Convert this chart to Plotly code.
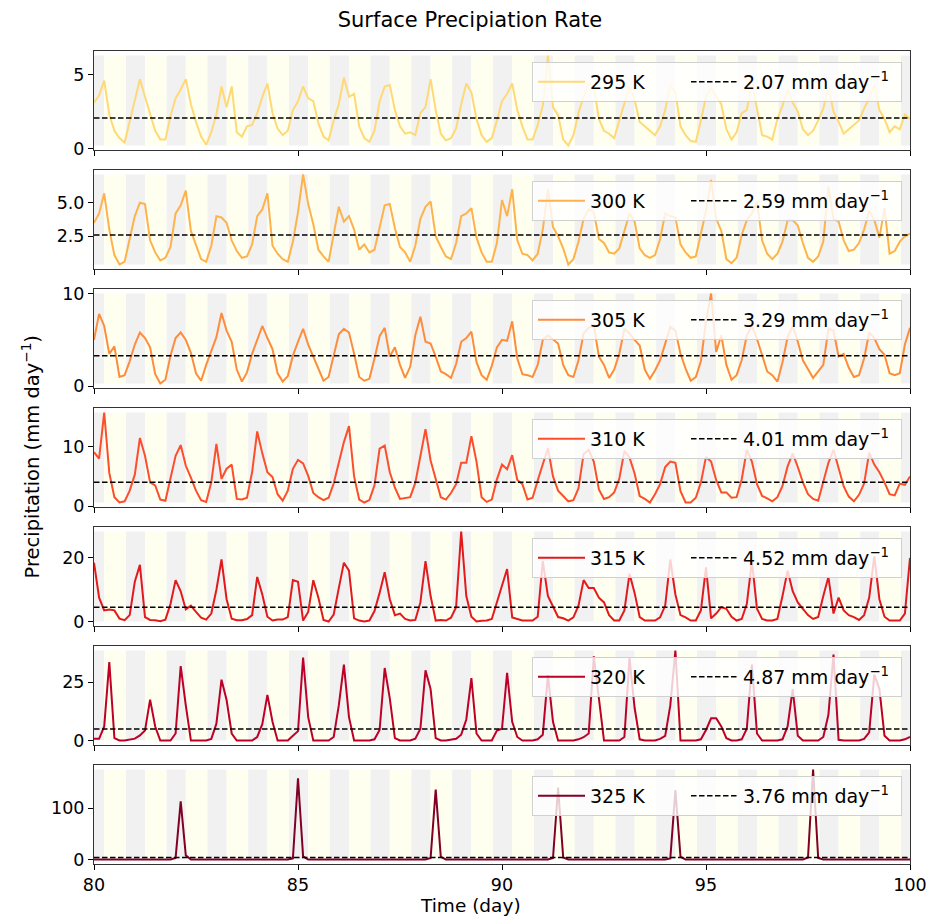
import plotly.graph_objects as go
from plotly.subplots import make_subplots

# ---------------- data (3-hourly samples, day 80 -> 100) ----------------
time = [80 + k / 8 for k in range(161)]

p295 = [3.1, 3.6, 4.6, 2.3, 1.2, 0.7, 0.4, 1.8,
        3.3, 4.7, 3.5, 2.3, 1.2, 0.6, 0.6, 2.2,
        3.4, 4.0, 4.7, 3.0, 1.8, 0.8, 0.25, 1.1,
        2.3, 4.2, 2.8, 4.2, 1.1, 0.8, 1.5, 1.6,
        2.4, 3.5, 4.4, 2.4, 1.35, 0.9, 1.2, 2.6,
        3.2, 4.2, 3.4, 3.2, 1.7, 0.8, 0.55, 1.9,
        3.0, 4.8, 3.5, 3.7, 1.5, 0.7, 0.45, 1.2,
        3.2, 4.2, 4.3, 2.6, 1.5, 1.0, 1.1, 0.9,
        2.4, 2.8, 4.7, 2.6, 1.0, 0.55, 0.7, 1.35,
        3.0, 4.4, 3.8, 2.0, 0.9, 0.45, 0.7, 1.9,
        3.2, 3.7, 4.4, 2.6, 1.5, 0.6, 0.6, 1.6,
        2.9, 6.3, 2.8, 2.25, 0.6, 0.2, 0.9, 2.4,
        3.5, 4.4, 4.2, 2.0, 1.2, 1.0, 0.7, 1.9,
        3.0, 4.2, 3.3, 1.8, 1.5, 1.2, 0.9, 1.5,
        2.6, 4.3, 3.8, 1.5, 0.9, 0.5, 0.45, 1.9,
        3.5, 4.1, 3.5, 3.0, 1.3, 0.6, 1.1, 2.4,
        2.6, 4.4, 2.7, 0.9, 0.8, 0.6, 2.0, 2.9,
        4.0, 3.1, 2.5, 1.3, 0.9, 1.2, 1.9, 2.7,
        4.2, 2.5, 1.8, 1.0, 1.3, 1.6, 1.9, 2.7,
        3.4, 4.3, 2.6, 2.0, 1.1, 1.5, 1.3, 2.3,
        2.0]

p300 = [3.5, 4.2, 5.7, 3.0, 1.1, 0.4, 0.6, 2.2,
        4.0, 5.0, 4.9, 2.2, 1.3, 0.7, 0.9, 1.7,
        4.2, 4.8, 5.9, 2.9, 1.9, 0.8, 0.6, 1.8,
        4.0, 3.9, 3.5, 2.2, 1.4, 0.9, 1.0, 1.9,
        4.0, 4.5, 5.7, 1.8, 1.2, 0.8, 0.6, 2.1,
        4.3, 7.1, 4.9, 3.4, 1.5, 1.0, 0.6, 2.7,
        4.7, 3.6, 4.0, 3.0, 1.5, 1.9, 1.3, 1.5,
        3.1, 4.8, 4.9, 3.1, 1.7, 1.3, 0.6, 1.8,
        3.8, 4.7, 5.1, 2.5, 1.7, 1.0, 0.8, 2.0,
        4.0, 4.2, 4.6, 2.4, 1.3, 0.6, 0.6, 2.0,
        5.2, 4.0, 6.0, 2.2, 1.2, 1.1, 0.7, 1.2,
        3.0, 6.0, 3.2, 2.5, 1.6, 0.4, 0.8, 2.1,
        3.8, 4.5, 4.3, 2.3, 2.0, 1.3, 1.2, 1.6,
        2.9, 4.2, 3.6, 1.6, 1.1, 0.9, 1.1, 2.3,
        4.2, 4.0, 3.9, 1.9, 1.3, 0.9, 1.0, 2.8,
        4.4, 6.7, 3.8, 2.9, 0.8, 0.5, 0.9, 2.6,
        3.7, 4.2, 5.1, 2.2, 1.2, 0.8, 1.2, 2.1,
        3.7, 3.7, 3.3, 2.0, 0.9, 0.6, 1.0, 2.1,
        6.2, 3.8, 3.6, 2.2, 1.4, 1.5, 2.0, 3.0,
        4.4, 3.7, 2.4, 4.6, 1.2, 1.4, 2.1, 2.5,
        2.7]

p305 = [5.0, 7.8, 6.5, 3.5, 4.3, 1.0, 1.2, 2.7,
        4.5, 5.8, 5.2, 4.2, 1.3, 0.3, 0.7, 3.3,
        5.2, 5.8, 5.0, 3.6, 1.4, 0.6, 2.3, 3.7,
        5.3, 7.9, 6.0, 4.8, 1.8, 0.5, 1.5, 3.5,
        5.0, 6.5, 5.2, 4.0, 1.4, 0.5, 1.1, 3.3,
        4.8, 6.2, 4.5, 3.2, 1.9, 0.6, 1.0, 3.4,
        5.6, 6.2, 5.8, 3.5, 1.0, 0.6, 0.8, 3.0,
        5.4, 6.3, 3.2, 4.2, 2.3, 0.9, 2.1, 5.5,
        7.5, 4.8, 4.6, 3.2, 1.6, 1.3, 0.9, 2.4,
        4.8, 5.2, 5.9, 2.6, 1.2, 0.7, 2.2, 4.2,
        5.0, 4.9, 7.0, 3.0, 1.3, 1.2, 1.0, 2.3,
        5.0, 5.5, 5.0, 4.6, 2.3, 1.2, 1.0, 2.8,
        5.7, 6.3, 6.6, 3.2, 2.3, 0.9, 1.8, 3.5,
        6.2, 5.7, 5.0, 4.4, 1.8, 0.8, 1.7, 2.8,
        4.6, 6.4, 6.0, 3.5, 1.9, 0.6, 1.0, 2.7,
        7.0, 10.0, 3.7, 5.5, 2.3, 0.7, 1.2, 2.8,
        5.5, 6.5, 5.1, 3.4, 1.6, 1.2, 0.5, 2.6,
        5.3, 6.5, 4.8, 2.8, 1.8, 0.9, 1.6, 2.3,
        6.2, 6.0, 3.2, 3.5, 2.0, 1.0, 1.2, 3.0,
        5.8, 5.2, 4.0, 3.4, 1.4, 1.2, 1.4, 4.5,
        6.3]

p310 = [9.1, 8.0, 15.8, 5.6, 1.5, 0.6, 0.8, 2.6,
        5.3, 11.5, 8.5, 4.0, 3.5, 1.1, 0.9, 4.8,
        8.5, 10.3, 6.8, 4.8, 2.6, 1.0, 0.7, 4.0,
        10.5, 4.6, 6.3, 7.0, 1.2, 1.1, 1.4, 5.7,
        12.6, 8.9, 5.7, 4.9, 2.0, 0.9, 2.6, 6.3,
        7.8, 7.2, 5.1, 2.2, 1.5, 1.0, 1.4, 3.8,
        7.5, 10.8, 13.5, 5.0, 1.1, 0.6, 1.0, 3.5,
        9.7, 10.2, 5.7, 3.1, 1.2, 1.4, 1.5, 3.9,
        8.3, 13.0, 7.7, 4.8, 1.5, 1.1, 2.2, 3.7,
        7.3, 7.3, 11.8, 7.5, 1.5, 0.7, 1.1, 4.5,
        7.0, 6.2, 8.6, 4.4, 3.7, 1.1, 1.4, 4.3,
        7.0, 9.8, 5.0, 2.6, 1.7, 0.8, 1.0, 3.0,
        8.8, 9.5, 7.5, 2.8, 1.2, 1.5, 2.3, 4.6,
        9.3, 8.2, 5.5, 1.7, 1.2, 0.6, 2.0, 3.7,
        6.6, 7.5, 7.3, 2.5, 0.6, 0.6, 1.4, 4.0,
        8.3, 7.5, 4.4, 2.3, 2.3, 1.4, 1.5, 4.5,
        9.5, 7.5, 3.7, 1.7, 1.3, 0.8, 1.5, 3.4,
        6.7, 8.9, 6.6, 4.0, 2.0, 1.2, 0.9, 3.9,
        7.3, 9.5, 6.6, 3.3, 1.6, 0.8, 1.9, 3.8,
        9.0, 7.0, 5.7, 4.0, 2.0, 1.8, 3.8, 3.6,
        5.0]

p315 = [18.5, 7.5, 3.5, 3.8, 3.5, 0.9, 0.4, 2.0,
        12.5, 17.8, 1.4, 0.5, 0.4, 0.1, 0.6, 5.5,
        13.0, 9.5, 3.8, 5.0, 3.0, 1.2, 0.6, 2.5,
        10.0, 19.5, 7.0, 0.9, 0.4, 0.4, 0.8, 2.0,
        14.0, 8.5, 1.5, 0.3, 0.6, 0.6, 1.4, 13.0,
        12.5, 0.3, 3.0, 13.0, 7.5, 0.5, 0.0, 2.2,
        10.5, 18.5, 16.0, 1.0, 0.3, 0.0, 0.3, 3.3,
        9.0, 15.5, 7.0, 2.0, 2.5, 0.8, 0.3, 0.5,
        6.0, 19.0, 8.0, 0.3, 0.5, 0.3, 1.2, 4.5,
        28.3, 8.0, 1.5, 0.0, 0.2, 0.3, 0.8, 6.0,
        12.0, 16.5, 1.3, 0.9, 0.3, 0.3, 0.3, 1.5,
        19.0, 8.0, 4.6, 1.4, 1.0, 0.3, 1.3, 5.0,
        13.0, 10.5, 10.5, 7.5, 6.0, 2.0, 0.3, 0.3,
        3.5, 15.0, 9.0, 1.4, 0.3, 0.3, 0.3, 1.3,
        5.0, 19.5, 8.5, 2.0, 1.3, 0.3, 0.3, 3.5,
        17.0, 1.0, 2.5, 4.5, 4.0, 1.5, 0.3, 0.8,
        5.5, 19.0, 4.0, 0.8, 0.3, 0.3, 0.8, 8.0,
        16.0, 9.5, 6.0, 4.0, 2.0, 0.8, 1.4, 8.0,
        14.0, 2.5, 7.5, 3.5, 2.0, 1.4, 0.5, 2.0,
        7.5, 20.5, 7.0, 1.5, 0.3, 0.3, 0.3, 2.5,
        20.0]

p320 = [0.7, 0.7, 6.0, 33.5, 1.0, 0.0, 0.0, 0.5,
        0.8, 2.2, 4.3, 17.5, 6.0, 0.0, 0.0, 0.0,
        3.0, 31.8, 15.0, 0.0, 0.0, 0.0, 0.0, 0.7,
        7.2, 26.0, 17.3, 3.0, 0.0, 0.0, 0.0, 0.0,
        1.5, 7.0, 19.5, 8.0, 0.0, 0.0, 0.0, 2.0,
        4.0, 35.5, 10.0, 0.0, 0.0, 0.0, 0.0, 1.5,
        15.0, 32.5, 10.0, 0.0, 0.0, 0.0, 0.0, 0.5,
        4.5, 31.0, 18.0, 1.0, 0.0, 0.0, 0.0, 0.8,
        5.0, 30.0, 22.0, 1.0, 0.0, 0.0, 0.3, 0.7,
        2.5, 9.0, 26.7, 3.0, 0.0, 0.0, 0.0, 4.3,
        5.0, 28.9, 8.0, 1.5, 0.0, 0.0, 0.0, 0.5,
        2.5, 28.0, 8.0, 0.0, 0.0, 0.0, 0.0, 0.5,
        1.4, 3.0, 36.0, 18.0, 0.0, 0.0, 0.0, 0.0,
        1.5, 35.4, 14.0, 0.5, 0.0, 0.0, 0.0, 0.7,
        2.0, 15.0, 38.5, 0.0, 0.0, 0.0, 0.0, 0.5,
        4.5, 9.5, 9.5, 6.0, 1.0, 0.0, 0.0, 0.5,
        5.0, 32.5, 3.0, 0.0, 0.0, 0.0, 0.0, 0.5,
        6.0, 22.0, 2.0, 0.0, 0.0, 0.0, 0.0, 1.5,
        11.0, 36.8, 0.3, 0.0, 0.0, 0.0, 0.0, 0.7,
        3.5, 28.2, 22.0, 2.0, 0.0, 0.0, 0.0, 0.5,
        1.5]

p325 = [0.0, 0.0, 0.0, 0.0, 0.0, 0.0, 0.0, 0.0,
        0.0, 0.0, 0.0, 0.0, 0.0, 0.0, 0.0, 0.0,
        3.0, 113.0, 8.0, 0.0, 0.0, 0.0, 0.0, 0.0,
        0.0, 0.0, 0.0, 0.0, 0.0, 0.0, 0.0, 0.0,
        0.0, 0.0, 0.0, 0.0, 0.0, 0.0, 0.0, 2.0,
        158.0, 6.0, 0.0, 0.0, 0.0, 0.0, 0.0, 0.0,
        0.0, 0.0, 0.0, 0.0, 0.0, 0.0, 0.0, 0.0,
        0.0, 0.0, 0.0, 0.0, 0.0, 0.0, 0.0, 0.0,
        0.0, 0.0, 3.0, 136.0, 5.0, 0.0, 0.0, 0.0,
        0.0, 0.0, 0.0, 0.0, 0.0, 0.0, 0.0, 0.0,
        0.0, 0.0, 0.0, 0.0, 0.0, 0.0, 0.0, 0.0,
        0.0, 0.0, 3.0, 140.0, 4.0, 0.0, 0.0, 0.0,
        0.0, 0.0, 0.0, 0.0, 0.0, 0.0, 0.0, 0.0,
        0.0, 0.0, 0.0, 0.0, 0.0, 0.0, 0.0, 0.0,
        0.0, 2.0, 135.0, 5.0, 0.0, 0.0, 0.0, 0.0,
        0.0, 0.0, 0.0, 0.0, 0.0, 0.0, 0.0, 0.0,
        0.0, 0.0, 0.0, 0.0, 0.0, 0.0, 0.0, 0.0,
        0.0, 0.0, 0.0, 0.0, 4.0, 175.0, 3.0, 0.0,
        0.0, 0.0, 0.0, 0.0, 0.0, 0.0, 0.0, 0.0,
        0.0, 0.0, 0.0, 0.0, 0.0, 0.0, 0.0, 0.0,
        0.0]

series = [p295, p300, p305, p310, p315, p320, p325]
temps = ["295 K", "300 K", "305 K", "310 K", "315 K", "320 K", "325 K"]
means = [2.07, 2.59, 3.29, 4.01, 4.52, 4.87, 3.76]
colors = ["#fed976", "#feb24c", "#fd8d3c", "#fc4e2a", "#e31a1c", "#bd0026", "#800026"]
ytickvals = [[0, 5], [2.5, 5.0], [0, 10], [0, 10], [0, 20], [0, 25], [0, 100]]
yticktext = [["0", "5"], ["2.5", "5.0"], ["0", "10"], ["0", "10"], ["0", "20"], ["0", "25"], ["0", "100"]]
xticks = [80, 85, 90, 95, 100]
days = list(range(80, 101))

# ---------------- figure ----------------
# the page body has an 8 px margin, so the figure is drawn 8 px smaller
OFF = 8
W, H = 941 - OFF, 918 - OFF
ml, mr, mt, mb = 94 - OFF, 31, 51 - OFF, 54
pw, ph = W - ml - mr, H - mt - mb
n = len(series)
gap = 20

fig = make_subplots(rows=n, cols=1, shared_xaxes=True, vertical_spacing=gap / ph)
FONT = "DejaVu Sans"
NB = "\u00a0"

shapes = []
for i, (vals, lab, m, c) in enumerate(zip(series, temps, means, colors)):
    r = i + 1
    lg = "legend" if r == 1 else f"legend{r}"
    fig.add_trace(go.Scatter(x=time, y=vals, mode="lines", name=lab + NB * 6,
                             line=dict(color=c, width=2), legend=lg), row=r, col=1)
    fig.add_trace(go.Scatter(x=[80, 100], y=[m, m], mode="lines",
                             name=f"{m:.2f} mm day<sup>−1</sup>" + NB,
                             line=dict(color="black", width=1.5, dash="5.5px,2.5px"),
                             legend=lg), row=r, col=1)
    lo, hi = min(vals), max(vals)
    pad = 0.05 * (hi - lo)
    xr = "x" if r == 1 else f"x{r}"
    yr = "y" if r == 1 else f"y{r}"
    for d in days:
        g0, g1 = max(80, d - 0.22), min(100, d + 0.25)
        if g1 > g0:
            shapes.append(dict(type="rect", xref=xr, yref=yr, x0=g0, x1=g1, y0=lo, y1=hi,
                               fillcolor="#f1f1f2", line=dict(width=0), layer="below"))
        if d < 100:
            shapes.append(dict(type="rect", xref=xr, yref=yr, x0=d + 0.25, x1=min(100, d + 0.78),
                               y0=lo, y1=hi, fillcolor="#fffff0", line=dict(width=0), layer="below"))
    fig.update_yaxes(row=r, col=1, range=[lo - pad, hi + pad], tickvals=ytickvals[i],
                     ticktext=yticktext[i], ticks="outside", ticklen=5, tickcolor="black",
                     showline=True, mirror=True, linecolor="#333333", linewidth=1,
                     showgrid=False, zeroline=False,
                     tickfont=dict(family=FONT, size=17.5, color="black"))
    fig.update_xaxes(row=r, col=1, range=[80, 100], tickvals=xticks, ticks="outside",
                     ticklen=5, tickcolor="black", showline=True, mirror=True,
                     linecolor="#333333", linewidth=1, showgrid=False, zeroline=False,
                     showticklabels=(r == n),
                     tickfont=dict(family=FONT, size=17.5, color="black"))

fig.update_layout(shapes=shapes)

# per-panel legends
legends = {}
for i in range(n):
    r = i + 1
    ya = fig.layout["yaxis" if r == 1 else f"yaxis{r}"]
    top = ya.domain[1]
    key = "legend" if r == 1 else f"legend{r}"
    legends[key] = dict(x=1 - 8 / pw, xanchor="right", y=top - 11 / ph, yanchor="top",
                        orientation="h", bgcolor="rgba(255,255,255,0.8)",
                        bordercolor="#d0d0d0", borderwidth=1, itemwidth=47,
                        font=dict(family=FONT, size=19, color="black"),
                        tracegroupgap=0)
fig.update_layout(**legends)

fig.update_layout(
    width=W, height=H,
    margin=dict(l=ml, r=mr, t=mt, b=mb),
    paper_bgcolor="white", plot_bgcolor="white",
    font=dict(family=FONT, size=17, color="black"),
    title=dict(text="Surface Precipiation Rate", x=(470 - OFF) / W, xref="container",
               xanchor="center", y=1 - (20 - OFF) / H, yref="container", yanchor="middle",
               font=dict(family=FONT, size=21, color="black")),
    showlegend=True,
)

fig.add_annotation(text="Precipitation (mm day<sup>−1</sup>)", xref="paper", yref="paper",
                   x=(30 - 94) / pw, y=0.5, textangle=-90, showarrow=False,
                   xanchor="center", yanchor="middle",
                   font=dict(family=FONT, size=19.5, color="black"))
fig.add_annotation(text="Time (day)", xref="paper", yref="paper",
                   x=(470 - 94) / pw, y=(864 - 905) / ph, showarrow=False,
                   xanchor="center", yanchor="middle",
                   font=dict(family=FONT, size=18.5, color="black"))

fig.write_html("out.html")
